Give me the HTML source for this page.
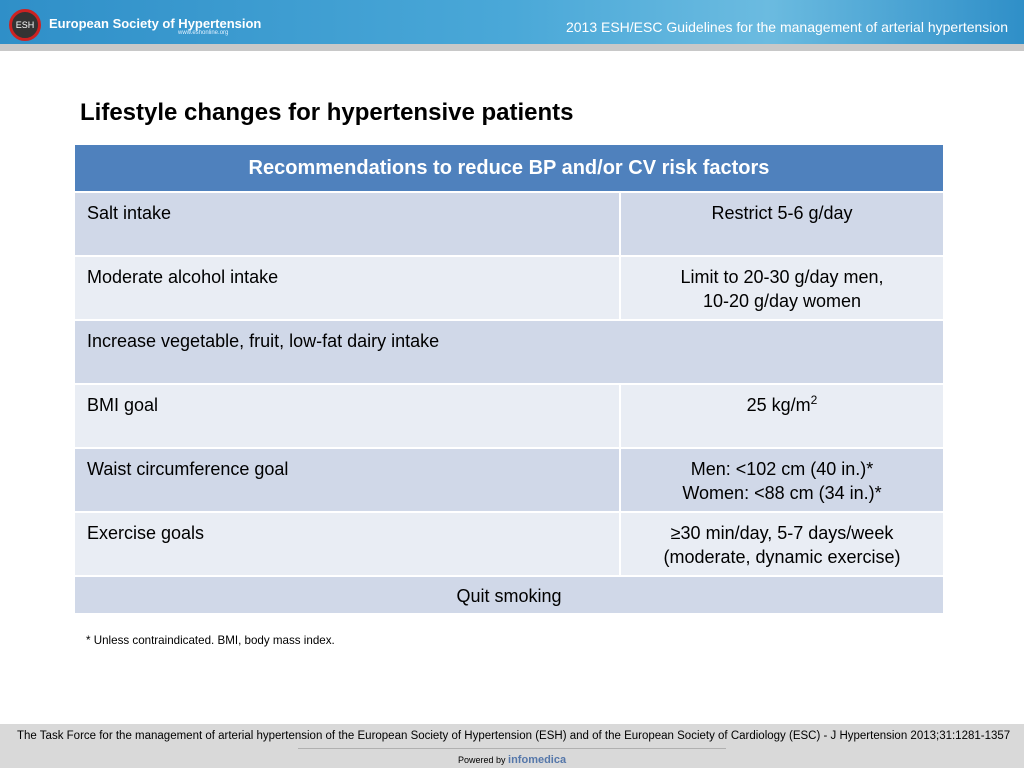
<!DOCTYPE html>
<html><head><meta charset="utf-8"><style>
body{margin:0;width:1024px;height:768px;position:relative;overflow:hidden;background:#fff;font-family:"Liberation Sans",sans-serif}
.hdr{position:absolute;left:0;top:0;width:1024px;height:44px;background:linear-gradient(90deg,#2f8fc8,#4aa8d8 50%,#6bbbe0 75%,#2f8fc8)}
.strip{position:absolute;left:0;top:44px;width:1024px;height:7px;background:#c8c8c8}
.title{position:absolute;left:80px;top:99px;font-size:24px;font-weight:bold;color:#000}
table{position:absolute;left:73px;top:143px;width:872px;border-collapse:collapse;font-size:18px}
td,th{border:2px solid #fff;vertical-align:top;padding:8px 12px 2px 12px;line-height:24px}
th{background:#4f81bd;color:#fff;font-size:20px;height:24px;padding:11px}
.d td{background:#d0d8e8}.l td{background:#e9edf4}
.c{text-align:center}
.foot{position:absolute;left:0;top:724px;width:1024px;height:44px;background:#d9d9d9;font-size:11.5px;color:#000}
</style></head><body>
<div class="hdr">
<div style="position:absolute;left:9px;top:9px;width:26px;height:26px;border-radius:50%;border:3px solid #c22;background:#333;color:#fff;font-size:9px;text-align:center;line-height:26px">ESH</div>
<div style="position:absolute;left:49px;top:16px;color:#fff;font-size:13px;font-weight:bold">European Society of Hypertension</div>
<div style="position:absolute;left:178px;top:30px;color:#e0f0ff;font-size:6px">www.eshonline.org</div>
<div style="position:absolute;right:16px;top:19px;color:#fff;font-size:14px">2013 ESH/ESC Guidelines for the management of arterial hypertension</div>
</div>
<div class="strip"></div>
<div class="title">Lifestyle changes for hypertensive patients</div>
<table>
<tr><th colspan="2">Recommendations to reduce BP and/or CV risk factors</th></tr>
<tr class="d" style="height:64px"><td style="width:520px">Salt intake</td><td class="c">Restrict 5-6 g/day</td></tr>
<tr class="l" style="height:64px"><td>Moderate alcohol intake</td><td class="c">Limit to 20-30 g/day men,<br>10-20 g/day women</td></tr>
<tr class="d" style="height:64px"><td colspan="2">Increase vegetable, fruit, low-fat dairy intake</td></tr>
<tr class="l" style="height:64px"><td>BMI goal</td><td class="c">25 kg/m<sup style="font-size:12px;line-height:0">2</sup></td></tr>
<tr class="d" style="height:64px"><td>Waist circumference goal</td><td class="c">Men: &lt;102 cm (40 in.)*<br>Women: &lt;88 cm (34 in.)*</td></tr>
<tr class="l" style="height:64px"><td>Exercise goals</td><td class="c">≥30 min/day, 5-7 days/week<br>(moderate, dynamic exercise)</td></tr>
<tr class="d" style="height:38px"><td colspan="2" class="c" style="padding-top:7px;padding-bottom:5px">Quit smoking</td></tr>
</table>
<div style="position:absolute;left:86px;top:634px;font-size:11.6px">* Unless contraindicated. BMI, body mass index.</div>
<div class="foot">
<div style="position:absolute;left:17px;top:6px">The Task Force for the management of arterial hypertension of the European Society of Hypertension (ESH) and of the European Society of Cardiology (ESC) - J Hypertension 2013;31:1281-1357</div>
<div style="position:absolute;left:298px;top:24px;width:428px;height:1px;background:#b0b0b0"></div>
<div style="position:absolute;left:458px;top:30px;font-size:9px">Powered by <span style="color:#5577aa;font-weight:bold;font-size:11px">infomedica</span></div>
</div>
</body></html>
